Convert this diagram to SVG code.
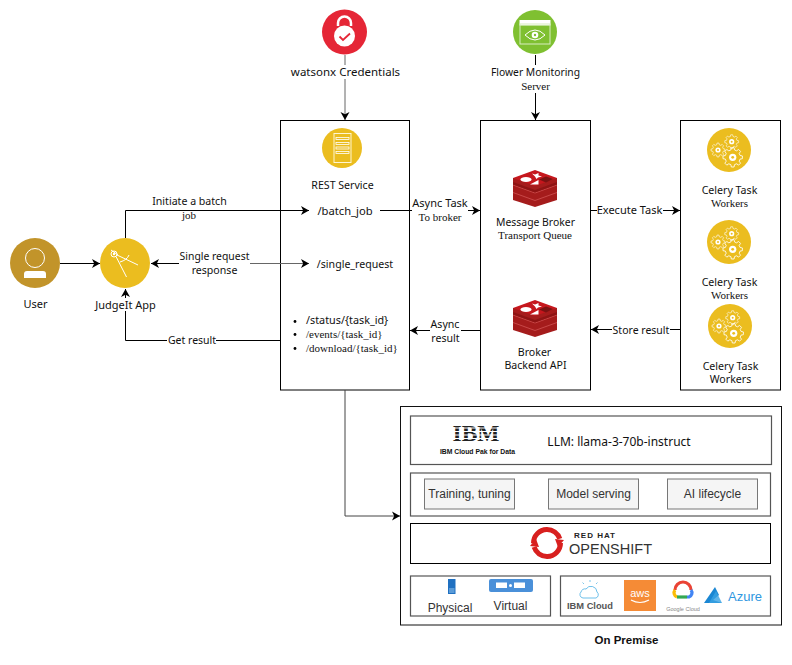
<svg xmlns="http://www.w3.org/2000/svg" xmlns:xlink="http://www.w3.org/1999/xlink" width="792" height="665" viewBox="0 0 792 665">
<style>
text{font-family:"Noto Sans","Liberation Sans",sans-serif;font-size:10.600px;fill:#111;text-anchor:middle}
.s{font-family:"Liberation Serif",serif;font-size:11px}
.a{font-family:"Liberation Sans",sans-serif;font-size:12px;fill:#333}
.box{fill:#fff;stroke:#000;stroke-width:1}
.gbox{fill:#fff;stroke:#555;stroke-width:1.200}
.inner{fill:#f5f5f5;stroke:#777;stroke-width:1}
.c{fill:none;stroke:#000;stroke-width:1;marker-end:url(#ah)}
.g{stroke:#666}
.bg{fill:#fff;stroke:none}
.gear{fill:none;stroke:#fff;stroke-width:.6}
</style>
<defs>
<marker id="ah" markerUnits="userSpaceOnUse" markerWidth="10" markerHeight="10" refX="8.500" refY="5" orient="auto"><path d="M0.500 0.500L8.500 5L0.500 9.500L2.700 5Z" fill="#000"/></marker>
<g id="gear1"><path class="gear" d="M5.240 -1.310L6.930 -.97L6.930 .97L5.240 1.310L4.630 2.780L5.590 4.210L4.210 5.590L2.780 4.630L1.310 5.240L.97 6.930L-.97 6.930L-1.310 5.240L-2.780 4.630L-4.210 5.590L-5.590 4.210L-4.630 2.780L-5.240 1.310L-6.930 .97L-6.930 -.97L-5.240 -1.310L-4.630 -2.780L-5.590 -4.210L-4.210 -5.590L-2.780 -4.630L-1.310 -5.240L-.97 -6.930L.97 -6.930L1.310 -5.240L2.780 -4.630L4.210 -5.590L5.590 -4.210L4.630 -2.780Z"/><circle r="2.600" fill="#fff"/><circle r="1" fill="#ebbd1f"/></g>
<g id="gears"><circle r="22" fill="#ebbd1f"/><use xlink:href="#gear1" x="-11" y="0"/><use xlink:href="#gear1" x="2.700" y="-8.300"/><use xlink:href="#gear1" transform="translate(3.700 7.300) scale(1.400)"/></g>
<g id="redis">
<path d="M-22 -10V12L0 19L22 12V-10Z" fill="#a51c1c"/>
<path d="M-22 -3L0 5L22 -3M-22 4.500L0 12.500L22 4.500" fill="none" stroke="#d65a5a" stroke-width=".7"/>
<path d="M-22 -3.500L0 4.500L22 -3.500V-6L0 2L-22 -6Z" fill="#8e1414"/>
<path d="M-22 -10L0 -18L22 -10L0 -2Z" fill="#c6171d"/>
<ellipse cx="-9" cy="-8.500" rx="5.500" ry="2.500" fill="#fff"/>
<path d="M-3 -14.500L0 -13.500L3.500 -15L3.500 -12.500L7 -11.500L3 -10.500L1.500 -9L0 -11.500Z" fill="#fff"/>
<path d="M3.500 -8L-5 -3.500L3.500 -3.500Z" fill="#fff"/>
<path d="M4 -8.500L11 -11.500L18 -9L11 -5.500Z" fill="#7a1212"/>
</g>
</defs>
<rect width="792" height="665" fill="#fff"/>

<g id="rest-box"><rect class="box" x="280.500" y="120.500" width="129" height="269.500"/></g>
<g id="broker-box"><rect class="box" x="480.500" y="120.500" width="110" height="269.500"/></g>
<g id="workers-box"><rect class="box" x="680.500" y="120.500" width="100" height="269.500"/></g>

<g id="connectors">
<path class="c g" d="M345 55V120"/>
<path class="c" d="M535.500 55V120"/>
<path class="c" d="M60 263.500H100"/>
<path class="c" d="M125.500 238V210.500H309"/>
<path class="c" d="M250 263.500H151"/>
<path class="c g" d="M250 263.500H309"/>
<path class="c" d="M280 340.500H125.500V289"/>
<path class="c" d="M380 210.500H480"/>
<path class="c" d="M480 330.500H410"/>
<path class="c" d="M591 210.500H680"/>
<path class="c" d="M680 329.500H591"/>
<path class="c" style="stroke:#444" d="M345 390V516H400"/>
</g>

<g id="connector-labels">
<rect class="bg" x="152" y="194" width="75" height="14"/><text x="189.500" y="205">Initiate a batch</text><text class="s" x="189" y="219">job</text>
<rect class="bg" x="179" y="250" width="71" height="26"/><text x="214.500" y="260" style="font-size:10.400px">Single request</text><text x="214.500" y="274">response</text>
<rect class="bg" x="167" y="334" width="49" height="13"/><text x="192" y="344" style="font-size:10.500px">Get result</text>
<rect class="bg" x="412" y="197" width="56" height="26"/><text x="440" y="207" style="font-size:11px">Async Task</text><text class="s" x="440" y="221">To broker</text>
<rect class="bg" x="430" y="318" width="31" height="26"/><text x="445" y="328">Async</text><text x="445.500" y="342">result</text>
<rect class="bg" x="597" y="204" width="66" height="13"/><text x="629.500" y="214" style="font-size:11px">Execute Task</text>
<rect class="bg" x="612" y="323" width="58" height="13"/><text x="641" y="334" style="font-size:10.500px">Store result</text>
</g>

<g id="user"><circle cx="35" cy="263" r="25" fill="#c2942a"/><circle cx="35" cy="258" r="9.500" fill="none" stroke="#fff" stroke-width="1"/><path d="M24 278V274Q24 271 27 271H43Q46 271 46 274V278Z" fill="#fff"/><text x="35.500" y="308" style="font-size:11px">User</text></g>

<g id="judgeit"><circle cx="125" cy="263" r="25" fill="#ebbd1f"/>
<g fill="none" stroke="#fff" stroke-width="1"><circle cx="114" cy="254" r="3"/><path d="M111 250L118 255M116 256.500L126.500 277M117 255L138 265M120 262Q127 260 129 255"/></g><circle cx="114" cy="254" r="1.200" fill="#fff"/>
<rect class="bg" x="94" y="298" width="62" height="13"/><text x="125.500" y="309" style="font-size:11px">JudgeIt App</text></g>

<g id="watsonx"><circle cx="344.500" cy="32" r="22.500" fill="#e52636"/>
<path d="M338 26V23A6.500 6.500 0 0 1 351 23V26" fill="none" stroke="#fff" stroke-width="2.500"/>
<circle cx="344.500" cy="36" r="10.500" fill="#fff"/>
<path d="M339.500 36.500L343 40L350 33.500" fill="none" stroke="#e52636" stroke-width="1.800"/>
<rect class="bg" x="290" y="65" width="110" height="14"/><text x="345.500" y="76" style="font-size:11.500px">watsonx Credentials</text></g>

<g id="flower"><circle cx="535" cy="32" r="22" fill="#7fc031"/>
<rect x="519.500" y="20" width="31" height="5.500" fill="#fff"/><rect x="520" y="24" width="30" height="20" fill="none" stroke="#d8edc0" stroke-width="1"/>
<path d="M525 35Q535 25 545 35Q535 45 525 35Z" fill="none" stroke="#fff" stroke-width="1"/><circle cx="535" cy="35" r="3.300" fill="#fff"/><circle cx="535" cy="35" r="1.200" fill="#7fc031"/>
<rect class="bg" x="490" y="65" width="90" height="28"/><text x="535.500" y="76" style="font-size:10.300px">Flower Monitoring</text><text class="s" x="535.500" y="90">Server</text></g>

<g id="rest-service"><circle cx="342" cy="148" r="20" fill="#ebbd1f"/>
<rect x="334" y="133.500" width="17" height="29" fill="none" stroke="#fff6d0" stroke-width="1"/>
<g fill="#ebbd1f" stroke="#fff" stroke-width="0.800"><rect x="336" y="137.500" width="13" height="2"/><rect x="336" y="142.500" width="13" height="2"/><rect x="336" y="147" width="13" height="2"/><rect x="336" y="151.500" width="13" height="2"/></g>
<text x="342.500" y="189">REST Service</text></g>

<g id="endpoints">
<rect class="bg" x="316" y="204" width="64" height="14"/><text x="345" y="214.500" style="font-size:11.200px">/batch_job</text>
<text x="355" y="267.500" style="font-size:10.600px">/single_request</text>
<circle cx="295" cy="321.500" r="1.400" fill="#000"/><circle cx="295" cy="334.500" r="1.400" fill="#000"/><circle cx="295" cy="348.500" r="1.400" fill="#000"/>
<text x="306" y="324" style="text-anchor:start;font-size:10.800px">/status/{task_id}</text>
<text class="s" x="306" y="337.500" style="text-anchor:start">/events/{task_id}</text>
<text class="s" x="306" y="351.500" style="text-anchor:start">/download/{task_id}</text>
</g>

<g id="message-broker"><use xlink:href="#redis" x="535" y="188"/><text x="535.500" y="226" style="font-size:10.400px">Message Broker</text><text class="s" x="535" y="239">Transport Queue</text></g>
<g id="broker-backend"><use xlink:href="#redis" x="535" y="318"/><text x="534.500" y="356">Broker</text><text x="535.500" y="369">Backend API</text></g>

<g id="worker-1"><use xlink:href="#gears" x="729" y="150"/><text x="729.500" y="194">Celery Task</text><text class="s" x="729.500" y="207">Workers</text></g>
<g id="worker-2"><use xlink:href="#gears" x="729" y="242"/><text x="729.500" y="286">Celery Task</text><text class="s" x="729.500" y="299">Workers</text></g>
<g id="worker-3"><use xlink:href="#gears" x="730" y="326"/><text x="730.500" y="370">Celery Task</text><text x="730.500" y="383">Workers</text></g>

<g id="on-premise"><rect x="400.500" y="406.500" width="381" height="218.500" fill="#fff" stroke="#111" stroke-width="1"/><text x="626.500" y="644" style="font-family:'Liberation Sans',sans-serif;font-weight:700;font-size:11.500px">On Premise</text></g>

<g id="llm"><rect class="gbox" x="410.500" y="416" width="361" height="48.500"/>
<text x="476" y="441" textLength="47" lengthAdjust="spacingAndGlyphs" style="font-family:'Liberation Serif',serif;font-weight:700;font-size:23px;fill:#222">IBM</text>
<g fill="#fff"><rect x="450" y="427.500" width="52" height="1"/><rect x="450" y="431" width="52" height="1"/><rect x="450" y="434.500" width="52" height="1"/><rect x="450" y="438" width="52" height="1"/></g>
<text x="477.500" y="454" style="font-family:'Liberation Sans',sans-serif;font-weight:700;font-size:6.800px">IBM Cloud Pak for Data</text>
<text x="619" y="446" style="font-size:12px">LLM: llama-3-70b-instruct</text></g>

<g id="platform"><rect class="gbox" x="410.500" y="473" width="360" height="43"/>
<rect class="inner" x="424.500" y="479" width="90" height="30"/><text class="a" x="469.500" y="498">Training, tuning</text>
<rect class="inner" x="548.500" y="479" width="90" height="30"/><text class="a" x="593.500" y="498">Model serving</text>
<rect class="inner" x="667.500" y="479" width="90" height="30"/><text class="a" x="712.500" y="498">AI lifecycle</text></g>

<g id="openshift"><rect class="box" x="410.500" y="523.500" width="360" height="40"/>
<circle cx="547" cy="543" r="13.500" fill="none" stroke="#d8201f" stroke-width="5" stroke-dasharray="38 4.410" transform="rotate(179 547 543)"/>
<path d="M530 546L536 539L539 547ZM564 540L558 547L555 539Z" fill="#d8201f"/>
<text x="595" y="538" style="font-family:'Liberation Sans',sans-serif;font-weight:700;font-size:8px;fill:#222;letter-spacing:1px">RED HAT</text>
<text x="610.500" y="554" textLength="83" lengthAdjust="spacingAndGlyphs" style="font-family:'Liberation Sans',sans-serif;font-size:14px;fill:#333">OPENSHIFT</text></g>

<g id="physical-virtual"><rect class="gbox" x="410.500" y="576" width="140" height="40"/>
<rect x="448" y="579" width="7.500" height="15" fill="#1f70c1"/><rect x="449" y="588" width="5.500" height="5" fill="#5a9bd8"/>
<rect x="489" y="579" width="44" height="13" rx="2" fill="#4a90d9"/><rect x="496" y="582.500" width="11" height="5.500" fill="#fff"/><rect x="514" y="582.500" width="11" height="5.500" fill="#fff"/><circle cx="510.500" cy="585.500" r="1.500" fill="#fff"/>
<text class="a" x="450" y="612">Physical</text><text class="a" x="510.500" y="610">Virtual</text></g>

<g id="clouds"><rect class="gbox" x="560.500" y="576" width="210" height="40"/>
<path d="M581 592a4 4 0 0 1 5 -3a6 6 0 0 1 11 3a3.500 3.500 0 0 1 -1 6h-13a3.500 3.500 0 0 1 -2 -6Z" fill="none" stroke="#5cb8e6" stroke-width=".9"/>
<path d="M590 582v-2M584 584l-1.500 -1.500M596 584l1.500 -1.500" stroke="#5cb8e6" stroke-width=".8"/>
<text x="590" y="609" style="font-family:'Liberation Sans',sans-serif;font-size:9.300px;fill:#555;font-weight:700">IBM Cloud</text>
<rect x="624" y="580" width="32" height="31" fill="#f58b36"/><text x="640" y="597" style="font-family:'Liberation Sans',sans-serif;font-size:11px;fill:#fff">aws</text>
<path d="M631 600Q640 605 649 600" fill="none" stroke="#fff" stroke-width="1.200"/>
<path d="M675 590A8 8 0 0 1 691 590" fill="none" stroke="#ea4335" stroke-width="3.200"/>
<path d="M677 597A4.500 4.500 0 0 1 675 590" fill="none" stroke="#fbbc05" stroke-width="3.200"/>
<path d="M677 597H687" stroke="#34a853" stroke-width="3.200"/>
<path d="M687 597H689A4.500 4.500 0 0 0 691 590" fill="none" stroke="#4285f4" stroke-width="3.200"/>
<text x="683" y="611" style="font-family:'Liberation Sans',sans-serif;font-size:5.500px;fill:#888">Google Cloud</text>
<path d="M704 603L715 587L719 595L713 600L722 603Z" fill="#1b87d3"/><path d="M709 603H722L716 591Z" fill="#3aa3e3" opacity=".8"/>
<text x="745" y="601" style="font-family:'Liberation Sans',sans-serif;font-size:13px;fill:#2f97e0">Azure</text></g>
</svg>
